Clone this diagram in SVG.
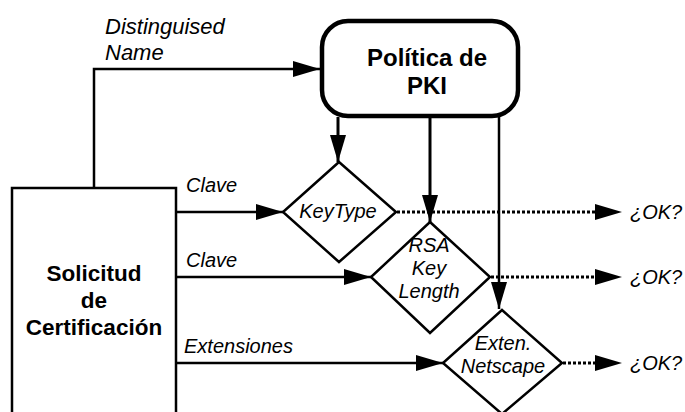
<svg xmlns="http://www.w3.org/2000/svg" width="685" height="412" viewBox="0 0 685 412">
  <defs>
    <marker id="arrow" markerUnits="userSpaceOnUse" markerWidth="28" markerHeight="16" refX="27" refY="8" orient="auto">
      <path d="M0,0 L27,8 L0,16 Z" fill="#000"/>
    </marker>
  </defs>
  <style>
    .box { fill: #fff; stroke: #000; stroke-width: 2.5; }
    .policy { fill: #fff; stroke: #000; stroke-width: 4.5; }
    .dia { fill: #fff; stroke: #000; stroke-width: 2.5; }
    .line { fill: none; stroke: #000; stroke-width: 2.5; }
    .thick { fill: none; stroke: #000; stroke-width: 3; }
    .dot { fill: none; stroke: #000; stroke-width: 3; stroke-dasharray: 3 2; }
    .title { font-family: "Liberation Sans", Arial, sans-serif; font-weight: bold; text-anchor: middle; font-size: 24px; }
    .req { font-family: "Liberation Sans", Arial, sans-serif; font-weight: bold; text-anchor: middle; font-size: 22.5px; }
    .lbl { font-family: "Liberation Sans", Arial, sans-serif; font-style: italic; font-size: 20px; }
    .big { font-size: 22px; }
    .dlbl { font-family: "Liberation Sans", Arial, sans-serif; font-style: italic; font-size: 20px; text-anchor: middle; }
  </style>

  <!-- connectors -->
  <g id="connectors">
    <polyline class="line" points="94,188 94,69 320,69" marker-end="url(#arrow)"/>
    <line class="thick" x1="338" y1="117" x2="338" y2="162" marker-end="url(#arrow)"/>
    <line class="thick" x1="430" y1="117" x2="430" y2="222" marker-end="url(#arrow)"/>
    <line class="line" x1="499" y1="117" x2="499" y2="309" marker-end="url(#arrow)"/>
    <line class="line" x1="176" y1="212" x2="283" y2="212" marker-end="url(#arrow)"/>
    <line class="line" x1="176" y1="277" x2="371" y2="277" marker-end="url(#arrow)"/>
    <line class="line" x1="176" y1="363" x2="443" y2="363" marker-end="url(#arrow)"/>
    <line class="dot" x1="397" y1="212" x2="597" y2="212"/>
    <line class="dot" x1="491" y1="277" x2="597" y2="277"/>
    <line class="dot" x1="563" y1="363" x2="597" y2="363"/>
    <path d="M595,204 L622,212 L595,220 Z"/>
    <path d="M595,269 L622,277 L595,285 Z"/>
    <path d="M595,355 L622,363 L595,371 Z"/>
    <text class="lbl big" x="105" y="34">Distinguised</text>
    <text class="lbl big" x="105" y="60">Name</text>
    <text class="lbl" x="186" y="192">Clave</text>
    <text class="lbl" x="186" y="267">Clave</text>
    <text class="lbl" x="184" y="353">Extensiones</text>
    <text class="lbl" x="630" y="219">¿OK?</text>
    <text class="lbl" x="630" y="284">¿OK?</text>
    <text class="lbl" x="630" y="370">¿OK?</text>
  </g>

  <g id="solicitud">
    <rect class="box" x="12" y="188" width="164" height="240"/>
    <text class="req" x="94" y="281">Solicitud</text>
    <text class="req" x="94" y="308">de</text>
    <text class="req" x="94" y="335">Certificación</text>
  </g>

  <g id="politica">
    <rect class="policy" x="322" y="21" width="196" height="95" rx="26" ry="26"/>
    <text class="title" x="427" y="66">Política de</text>
    <text class="title" x="427" y="94">PKI</text>
  </g>

  <g id="keytype">
    <polygon class="dia" points="339,162 396,212 339,262 283,212"/>
    <text class="dlbl" x="338" y="218">KeyType</text>
  </g>

  <g id="rsa">
    <polygon class="dia" points="430,222 490,277 430,333 371,277"/>
    <text class="dlbl" x="429" y="252">RSA</text>
    <text class="dlbl" x="429" y="275">Key</text>
    <text class="dlbl" x="429" y="298">Length</text>
  </g>

  <g id="netscape">
    <polygon class="dia" points="502,310 562,363 502,414 443,363"/>
    <text class="dlbl" x="503" y="350">Exten.</text>
    <text class="dlbl" x="503" y="373">Netscape</text>
  </g>
</svg>
